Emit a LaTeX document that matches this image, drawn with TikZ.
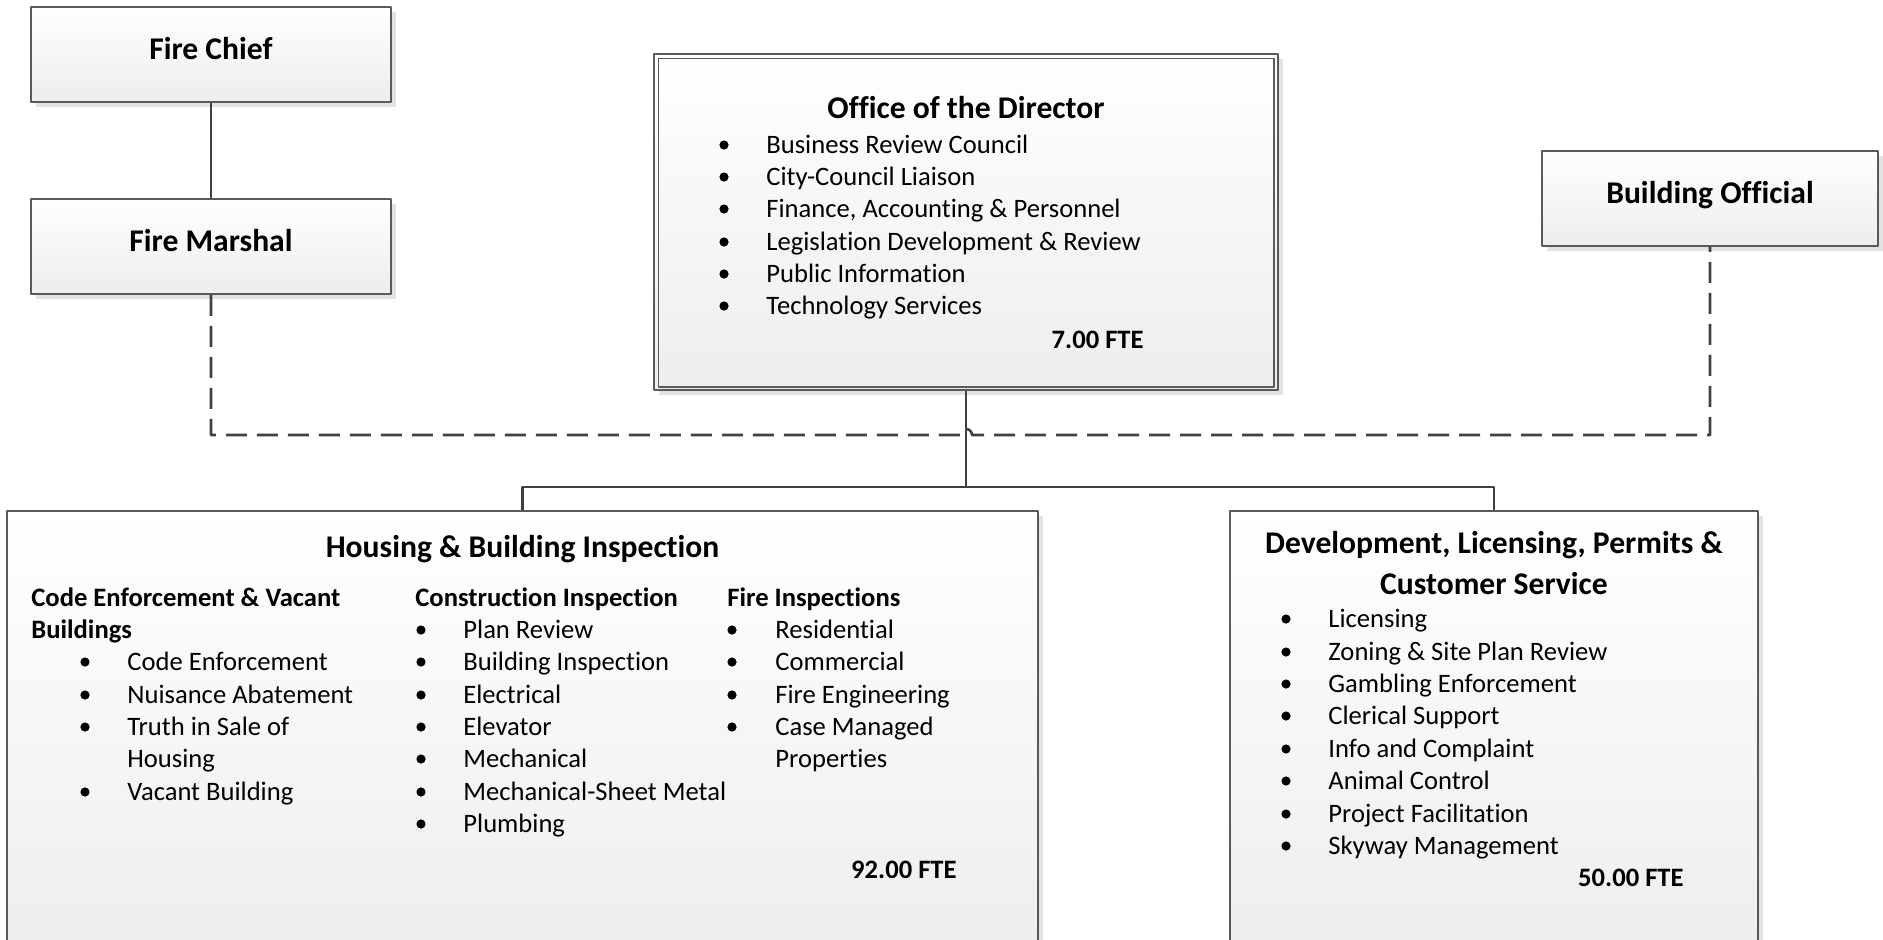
\documentclass[tikz,border=0pt]{standalone}
\usepackage{fontspec}
\setmainfont{Carlito}[Ligatures=NoCommon]
\usetikzlibrary{shadows,positioning}

\definecolor{boxline}{HTML}{5A5A5A}
\definecolor{linkline}{HTML}{404040}
\definecolor{shadowgray}{HTML}{E2E2E2}

\newcommand{\headfont}{\fontsize{15.8}{19.5}\selectfont\bfseries}
\newcommand{\bodyfont}{\fontsize{13.3}{16.15}\selectfont}

\begin{document}
\begin{tikzpicture}[x=0.5pt,y=-0.5pt,line join=round,
  box/.style={draw=boxline,line width=0.75pt,top color=white,bottom color=black!7,
    drop shadow={shadow xshift=2.5pt,shadow yshift=-2.5pt,fill=shadowgray,opacity=1},
    inner sep=0pt,font=\headfont,text height=11pt,text depth=6.3pt},
  link/.style={draw=linkline,line width=1.3pt},
  dashlink/.style={link,dash pattern=on 10.5pt off 5pt},
  head/.style={anchor=base,inner sep=0pt,font=\headfont},
  sub/.style={anchor=base west,inner sep=0pt,font=\bodyfont\bfseries},
  item/.style={anchor=base west,inner sep=0pt,font=\bodyfont},
  fte/.style={anchor=base east,inner sep=0pt,font=\bodyfont\bfseries}]
  \useasboundingbox (0,0) rectangle (1883,939);
  \clip (0,0) rectangle (1883,939);

  % boxes
  \node[box,minimum width=180pt,minimum height=47.5pt] (chief) at (211,54.5) {Fire Chief};
  \node[box,minimum width=180pt,minimum height=47.5pt] (marshal) at (211,246.5) {Fire Marshal};
  \node[box,minimum width=168pt,minimum height=47.5pt] (official) at (1710,198.5) {Building Official};
  \node[box,minimum width=312pt,minimum height=168pt] (office) at (966,222) {};
  \draw[boxline,line width=0.75pt] ([shift={(5,5)}]office.north west) rectangle ([shift={(-5,-4)}]office.south east);
  \node[box,minimum width=515.5pt,minimum height=224.5pt] (housing) at (522.5,735.5) {};
  \node[box,minimum width=264pt,minimum height=224.5pt] (dev) at (1494,735.5) {};

  % connectors
  \coordinate (bus) at (966,487);
  \coordinate (hop) at (960,435);
  \draw[link] (chief) -- (marshal);
  \draw[link] (office) -- (bus);
  \draw[link] (housing.north) |- (bus) -| (dev.north);
  \draw[dashlink] (marshal.south) |- (hop) arc[start angle=180,end angle=0,radius=3pt] -| (official.south);

  % office of the director
  \node[head] (dirtitle) at (966,118) {Office of the Director};
  \foreach \txt/\y [count=\i] in {Business Review Council/153, City-Council Liaison/185,
      {Finance, Accounting \& Personnel}/217, {Legislation Development \& Review}/250,
      Public Information/282, Technology Services/314}{
    \fill (724,\y-8) circle[radius=2.3pt];
    \node[item] (dir\i) at (766,\y) {\txt};
  }
  \node[fte] (dirfte) at (1144,348) {7.00 FTE};

  % housing & building inspection
  \node[head] (hbititle) at (522.5,557) {Housing \& Building Inspection};
  \node[sub] (codehead) at (31,606) {Code Enforcement \& Vacant};
  \node[sub] (codeheadb) at (31,638) {Buildings};
  \foreach \txt/\y [count=\i] in {Code Enforcement/670, Nuisance Abatement/703,
      Truth in Sale of/735, Vacant Building/800}{
    \fill (85,\y-8) circle[radius=2.3pt];
    \node[item] (code\i) at (127,\y) {\txt};
  }
  \node[item] (codewrap) at (127,767) {Housing};
  \node[sub] (consthead) at (415,606) {Construction Inspection};
  \foreach \txt/\y [count=\i] in {Plan Review/638, Building Inspection/670, Electrical/703,
      Elevator/735, Mechanical/767, Mechanical-Sheet Metal/800, Plumbing/832}{
    \fill (421,\y-8) circle[radius=2.3pt];
    \node[item] (const\i) at (463,\y) {\txt};
  }
  \node[sub] (firehead) at (727,606) {Fire Inspections};
  \foreach \txt/\y [count=\i] in {Residential/638, Commercial/670, Fire Engineering/703,
      Case Managed/735}{
    \fill (732,\y-8) circle[radius=2.3pt];
    \node[item] (fire\i) at (775,\y) {\txt};
  }
  \node[item] (firewrap) at (775,767) {Properties};
  \node[fte] (hbifte) at (957,878) {92.00 FTE};

  % development, licensing, permits & customer service
  \node[head] (devtitle) at (1494,553) {Development, Licensing, Permits \&};
  \node[head] (devtitleb) at (1494,594) {Customer Service};
  \foreach \txt/\y [count=\i] in {Licensing/627, Zoning \& Site Plan Review/660,
      Gambling Enforcement/692, Clerical Support/724, Info and Complaint/757,
      Animal Control/789, Project Facilitation/822, Skyway Management/854}{
    \fill (1286,\y-8) circle[radius=2.3pt];
    \node[item] (dev\i) at (1328,\y) {\txt};
  }
  \node[fte] (devfte) at (1684,886) {50.00 FTE};
\end{tikzpicture}
\end{document}
